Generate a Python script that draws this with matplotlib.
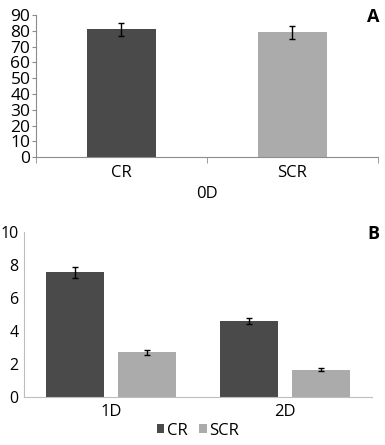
import numpy as np
import matplotlib.pyplot as plt

plt.rcParams['font.family'] = ['Open Sans', 'DejaVu Sans']

# Panel A data
a_cats = ["CR", "SCR"]
a_vals = [81, 79]
a_errs = [4.2, 4.0]

# Panel B data
b_groups = ["1D", "2D"]
b_cr = [7.55, 4.6]
b_cr_err = [0.35, 0.2]
b_scr = [2.7, 1.65]
b_scr_err = [0.14, 0.08]

dark = "#4a4a4a"
light = "#ababab"
axis_col = "#8c8c8c"
ekw = dict(ecolor="black", elinewidth=1, capsize=2.5, capthick=1)

fig = plt.figure(figsize=(3.85, 4.45), dpi=100)

# --- Panel A ---
ax1 = fig.add_axes([0.0935, 0.647, 0.888, 0.319])
x = np.arange(len(a_cats))
ax1.bar(x, a_vals, width=0.4, color=[dark, light], yerr=a_errs, error_kw=ekw)
ax1.set_xlim(-0.5, 1.5)
ax1.set_ylim(0, 90)
ax1.set_yticks(np.arange(0, 91, 10))
ax1.set_xticks(x)
ax1.set_xticklabels(a_cats)
ax1.set_xticks([-0.5, 0.5, 1.5], minor=True)
ax1.tick_params(axis="x", which="major", length=0, labelsize=12, pad=6)
ax1.tick_params(axis="x", which="minor", length=4, color=axis_col)
ax1.tick_params(axis="y", length=3, color=axis_col, labelsize=12.5, pad=1)
ax1.set_xlabel("0D", fontsize=12, labelpad=3)
for s in ["top", "right"]:
    ax1.spines[s].set_visible(False)
for s in ["left", "bottom"]:
    ax1.spines[s].set_color(axis_col)
fig.text(0.985, 0.962, "A", fontsize=13, fontweight="bold", ha="right", va="center")

# --- Panel B ---
ax2 = fig.add_axes([0.062, 0.108, 0.904, 0.371])
xg = np.arange(len(b_groups))
w = 0.33
off = 0.207
ax2.bar(xg - off, b_cr, width=w, color=dark, label="CR", yerr=b_cr_err, error_kw=ekw)
ax2.bar(xg + off, b_scr, width=w, color=light, label="SCR", yerr=b_scr_err, error_kw=ekw)
ax2.set_xlim(-0.5, 1.5)
ax2.set_ylim(0, 10)
ax2.set_yticks(np.arange(0, 11, 2))
ax2.set_xticks(xg)
ax2.set_xticklabels(b_groups)
ax2.tick_params(axis="x", length=0, labelsize=12, pad=5)
ax2.tick_params(axis="y", length=0, labelsize=11.5, pad=4)
for s in ["top", "right"]:
    ax2.spines[s].set_visible(False)
for s in ["left", "bottom"]:
    ax2.spines[s].set_color("#bdbdbd")
fig.text(0.985, 0.475, "B", fontsize=13, fontweight="bold", ha="right", va="center")
ax2.legend(loc="upper center", bbox_to_anchor=(0.5, -0.095), ncol=2, frameon=False,
           fontsize=12, handlelength=0.45, handleheight=0.45, handletextpad=0.15,
           columnspacing=0.7, borderaxespad=0.2)

plt.savefig("out.png", dpi=100)
